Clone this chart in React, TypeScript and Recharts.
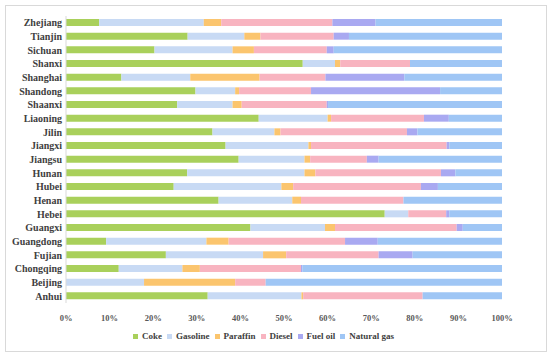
import React from 'react';
import { BarChart, Bar, XAxis, YAxis, Legend } from 'recharts';

const provinces = ['Zhejiang','Tianjin','Sichuan','Shanxi','Shanghai','Shandong','Shaanxi','Liaoning','Jilin','Jiangxi','Jiangsu','Hunan','Hubei','Henan','Hebei','Guangxi','Guangdong','Fujian','Chongqing','Beijing','Anhui'];
const coke =      [7.6, 27.9, 20.3, 54.3, 12.7, 29.7, 25.5, 44.2, 33.6, 36.6, 39.6, 27.8, 24.7, 35.0, 73.1, 42.3, 9.2, 22.9, 12.1, 0, 32.5];
const gasoline =  [24.0, 13.0, 17.9, 7.4, 15.8, 9.1, 12.7, 15.8, 14.2, 19.0, 15.1, 26.9, 24.7, 16.9, 5.4, 17.1, 23.0, 22.3, 14.6, 17.9, 21.5];
const paraffin =  [4.0, 3.7, 4.9, 1.2, 15.9, 0.9, 2.1, 0.8, 1.4, 0.6, 1.3, 2.5, 2.7, 2.0, 0, 2.3, 5.1, 5.3, 4.0, 20.9, 0.4];
const diesel =    [25.5, 16.8, 16.7, 16.0, 15.1, 16.5, 19.5, 21.3, 29.0, 31.1, 13.0, 28.8, 29.3, 23.5, 8.7, 27.9, 26.7, 21.2, 23.2, 7.0, 27.4];
const fuelOil =   [9.9, 3.5, 1.6, 0, 18.1, 29.6, 0.3, 5.7, 2.4, 0.6, 2.7, 3.3, 3.9, 0, 0.7, 1.4, 7.5, 7.8, 0.3, 0, 0];
const naturalGas =[29.0, 35.1, 38.6, 21.1, 22.4, 14.2, 39.9, 12.2, 19.4, 12.1, 28.3, 10.7, 14.7, 22.6, 12.1, 9.0, 28.5, 20.5, 45.8, 54.2, 18.2];
const xTicks = [0, 0.1, 0.2, 0.3, 0.4, 0.5, 0.6, 0.7, 0.8, 0.9, 1];

const seriesNames = ['Coke', 'Gasoline', 'Paraffin', 'Diesel', 'Fuel oil', 'Natural gas'];
const seriesColors = ['#a9d05b', '#c8daf4', '#fbc56e', '#f8b4c0', '#a9a9f1', '#9fc6f5'];
const seriesValues = [coke, gasoline, paraffin, diesel, fuelOil, naturalGas];

const data = provinces.map((name, i) => {
  const row: Record<string, any> = { name };
  seriesNames.forEach((s, j) => { row[s] = seriesValues[j][i]; });
  return row;
});

const FONT = 'Times New Roman, Liberation Serif, Tinos, serif';

const LegendContent = () => (
  <div style={{ display: 'flex', justifyContent: 'center', fontFamily: FONT, fontWeight: 'bold', fontSize: 9, color: '#404040', paddingTop: 6, paddingLeft: 30 }}>
    {seriesNames.map((n, i) => (
      <span key={n} style={{ display: 'inline-flex', alignItems: 'center', marginRight: 5 }}>
        <span style={{ display: 'inline-block', width: 5, height: 5, background: seriesColors[i], marginRight: 4 }} />
        {n}
      </span>
    ))}
  </div>
);

export default function App() {
  return (
    <div style={{ position: 'absolute', left: 0, top: 0, width: 550, height: 357, background: '#fff', fontFamily: FONT }}>
      <div style={{ position: 'absolute', left: 5, top: 5, width: 542, height: 347, border: '1px solid #d9d9d9', boxSizing: 'border-box' }} />
      <div style={{ position: 'absolute', left: 0, top: 0 }}>
        <BarChart
          width={550}
          height={357}
          data={data}
          layout="vertical"
          stackOffset="expand"
          barSize={7}
          margin={{ top: 16, right: 48, bottom: 10, left: 0 }}
        >
          <XAxis
            type="number"
            domain={[0, 1]}
            ticks={xTicks}
            tickFormatter={(v: number) => `${Math.round(v * 100)}%`}
            axisLine={false}
            tickLine={false}
            height={22}
            tickMargin={6}
            tick={{ fontFamily: FONT, fontWeight: 'bold', fontSize: 8.5, fill: '#595959' }}
            interval={0}
          />
          <YAxis
            type="category"
            dataKey="name"
            width={66}
            tickLine={false}
            tickSize={2}
            tickMargin={2}
            axisLine={{ stroke: '#d9d9d9' }}
            interval={0}
            tick={{ fontFamily: FONT, fontWeight: 'bold', fontSize: 10, fill: '#404040' }}
          />
          <Legend verticalAlign="bottom" height={22} content={<LegendContent />} />
          {seriesNames.map((n, i) => (
            <Bar key={n} dataKey={n} stackId="a" fill={seriesColors[i]} isAnimationActive={false} />
          ))}
        </BarChart>
      </div>
    </div>
  );
}
